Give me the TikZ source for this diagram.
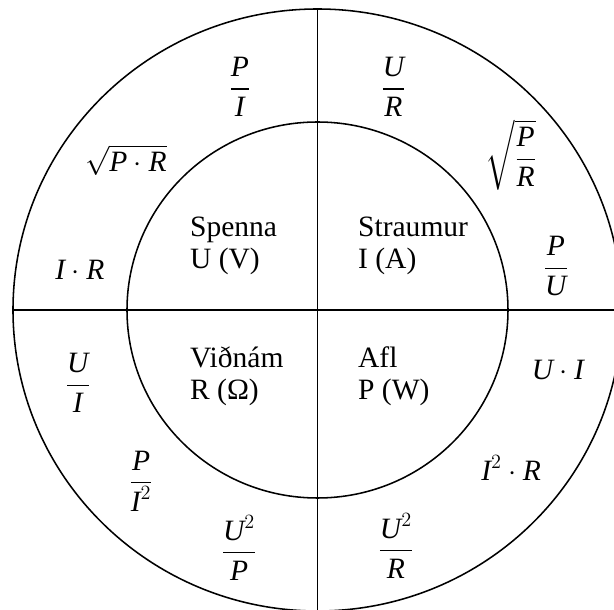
\documentclass[tikz,border=0pt]{standalone}
\usepackage{amsmath}
\usepackage{fontspec}
\setmainfont{Liberation Serif}
\usetikzlibrary{shapes.geometric}
\newcommand{\mv}[1]{\textit{#1}}

\begin{document}
\begin{tikzpicture}
  [ring/.style={ellipse, draw=black, line width=1.1pt, inner sep=0pt},
   divider/.style={draw=black, line width=1.1pt},
   quantity/.style={anchor=base west, inner sep=0pt, font=\fontsize{21}{25}\selectfont},
   formula/.style={inner sep=0pt, font=\fontsize{21}{25}\selectfont}]

  \useasboundingbox (-7.9375,-7.5) rectangle (7.4125,7.75);

  % Hringir
  \node[ring, minimum width=15.225cm, minimum height=15.05cm] (outer) at (0,0) {};
  \node[ring, minimum width=9.525cm, minimum height=9.4cm] (inner) at (0,0) {};

  % Skiptilinur
  \draw[divider] (outer.north) -- (outer.south);
  \draw[divider] (outer.west) -- (outer.east);

  % Staerdir
  \node[quantity] (spenna) at (-3.19,1.825) {Spenna};
  \node[quantity] (spennaU) at (-3.19,1.025) {U (V)};
  \node[quantity] (straumur) at (1.01,1.825) {Straumur};
  \node[quantity] (straumurI) at (1.01,1.025) {I (A)};
  \node[quantity] (vidnam) at (-3.19,-1.45) {Viðnám};
  \node[quantity] (vidnamR) at (-3.19,-2.25) {R (Ω)};
  \node[quantity] (afl) at (1.01,-1.45) {Afl};
  \node[quantity] (aflP) at (1.01,-2.25) {P (W)};

  % Formulur
  \node[formula] (pi) at (-1.94,5.58) {$\dfrac{\mv{P}}{\mv{I}}$};
  \node[formula] (ur) at (1.9,5.58) {$\dfrac{\mv{U}}{\mv{R}}$};
  \node[formula] (sqrtpr) at (-4.79,3.75) {$\sqrt{\mv{P}\cdot\mv{R}}$};
  \node[formula] (sqrtpdr) at (4.84,3.875) {$\sqrt{\dfrac{\mv{P}}{\mv{R}}}$};
  \node[formula] (ir) at (-5.94,1.0) {$\mv{I}\cdot\mv{R}$};
  \node[formula] (pu) at (5.96,1.1) {$\dfrac{\mv{P}}{\mv{U}}$};
  \node[formula] (ui) at (-5.99,-1.825) {$\dfrac{\mv{U}}{\mv{I}}$};
  \node[formula] (utimesi) at (6.01,-1.5) {$\mv{U}\cdot\mv{I}$};
  \node[formula] (pisq) at (-4.41,-4.275) {$\dfrac{\mv{P}}{\mv{I}^2}$};
  \node[formula] (isqr) at (4.84,-3.95) {$\mv{I}^2\cdot\mv{R}$};
  \node[formula] (usqp) at (-1.96,-5.95) {$\dfrac{\mv{U}^2}{\mv{P}}$};
  \node[formula] (usqr) at (1.96,-5.9) {$\dfrac{\mv{U}^2}{\mv{R}}$};
\end{tikzpicture}
\end{document}
